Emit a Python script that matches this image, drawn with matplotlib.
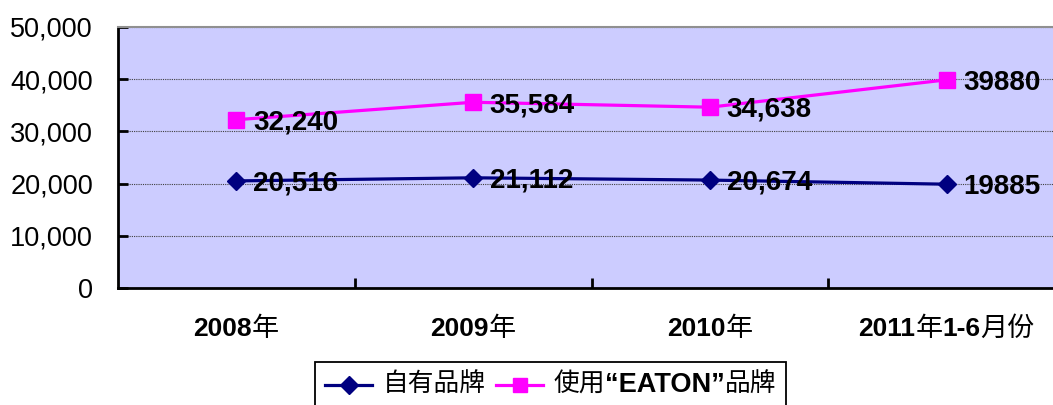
import re
import matplotlib
matplotlib.use("Agg")
import matplotlib.pyplot as plt
from matplotlib.lines import Line2D
from matplotlib.offsetbox import TextArea, HPacker, DrawingArea, AnnotationBbox
from matplotlib.ticker import FuncFormatter, MultipleLocator

categories = ['2008年', '2009年', '2010年', '2011年1-6月份']
own_brand = [20516, 21112, 20674, 19885]
eaton_brand = [32240, 35584, 34638, 39880]
own_labels = ['20,516', '21,112', '20,674', '19885']
eaton_labels = ['32,240', '35,584', '34,638', '39880']
legend_names = ['自有品牌', '使用“EATON”品牌']

NAVY = '#000080'
MAGENTA = '#FF00FF'
FAM = ['Liberation Sans', 'Noto Sans CJK SC']

plt.rcParams['font.family'] = FAM


def mixed_box(s, size, cjk_size=None):
    # latin parts bold, CJK parts regular (like the Excel original)
    parts = re.findall(r'[\u4e00-\u9fff]+|[^\u4e00-\u9fff]+', s)
    boxes = []
    for p in parts:
        if re.match(r'[\u4e00-\u9fff]', p):
            tp = dict(fontsize=cjk_size or size, fontweight='normal', family=FAM)
        else:
            tp = dict(fontsize=size, fontweight='bold', family=FAM)
        boxes.append(TextArea(p, textprops=tp))
    return HPacker(children=boxes, align='baseline', pad=0, sep=0)


fig = plt.figure(figsize=(10.53, 4.05), dpi=100)
ax = fig.add_axes([118 / 1053, 117 / 405, 947 / 1053, 261 / 405])
ax.set_facecolor('#CCCCFF')

x = list(range(len(categories)))
ax.plot(x, own_brand, color=NAVY, lw=2.3, marker='D', ms=8.7, mfc=NAVY, mec=NAVY, zorder=3)
ax.plot(x, eaton_brand, color=MAGENTA, lw=2.3, marker='s', ms=12, mfc=MAGENTA, mec=MAGENTA, zorder=3)

for xi, v, t in zip(x, own_brand, own_labels):
    ax.annotate(t, (xi, v), xytext=(12, -2), textcoords='offset points', ha='left', va='center',
                fontsize=20, fontweight='bold', zorder=4)
for xi, v, t in zip(x, eaton_brand, eaton_labels):
    ax.annotate(t, (xi, v), xytext=(12, -2), textcoords='offset points', ha='left', va='center',
                fontsize=20, fontweight='bold', zorder=4)

ax.set_xlim(-0.5, len(categories) - 0.5)
ax.set_ylim(0, 50000)
ax.yaxis.set_major_locator(MultipleLocator(10000))
ax.yaxis.set_major_formatter(FuncFormatter(lambda v, p: f'{int(v):,}'))
ax.grid(axis='y', color='#404040', ls=(0, (1, 1)), lw=0.8)
ax.set_axisbelow(True)

ax.set_xticks([0.5, 1.5, 2.5])
ax.set_xticklabels([])
ax.tick_params(axis='x', direction='in', length=7, width=2)
ax.tick_params(axis='y', direction='in', length=7, width=2, labelsize=19.5, pad=18)

for s in ['left', 'bottom']:
    ax.spines[s].set_linewidth(2)
    ax.spines[s].set_color('black')
ax.spines['top'].set_color('#909090')
ax.spines['top'].set_linewidth(1.5)
ax.spines['right'].set_visible(False)

# category labels
for xi, c in zip(x, categories):
    ab = AnnotationBbox(mixed_box(c, 19, 19.5), (xi, 0), xycoords=('data', 'axes fraction'),
                        xybox=(0, -29.5), boxcoords='offset points', frameon=False,
                        box_alignment=(0.5, 0.5), annotation_clip=False)
    ax.add_artist(ab)

# legend box at the bottom
def handle(color, marker, ms):
    da = DrawingArea(34, 14, 0, 0)
    da.add_artist(Line2D([0, 34], [7, 7], color=color, lw=2.3))
    da.add_artist(Line2D([17], [7], color=color, marker=marker, ms=ms, mfc=color, mec=color))
    return da

entries = [
    handle(NAVY, 'D', 8.7),
    TextArea(legend_names[0], textprops=dict(fontsize=18.5, family=FAM)),
    handle(MAGENTA, 's', 10),
    mixed_box(legend_names[1], 19.5, 18.5),
]
leg = HPacker(children=entries, align='center', pad=0, sep=7.5)
lab = AnnotationBbox(leg, (325, 20), xycoords='figure pixels', box_alignment=(0, 0.5),
                     frameon=True, pad=0.7, annotation_clip=False)
lab.patch.set_edgecolor('black')
lab.patch.set_linewidth(1.3)
lab.patch.set_boxstyle('square', pad=0.7)
fig.add_artist(lab)

fig.savefig('out.png', dpi=100)
